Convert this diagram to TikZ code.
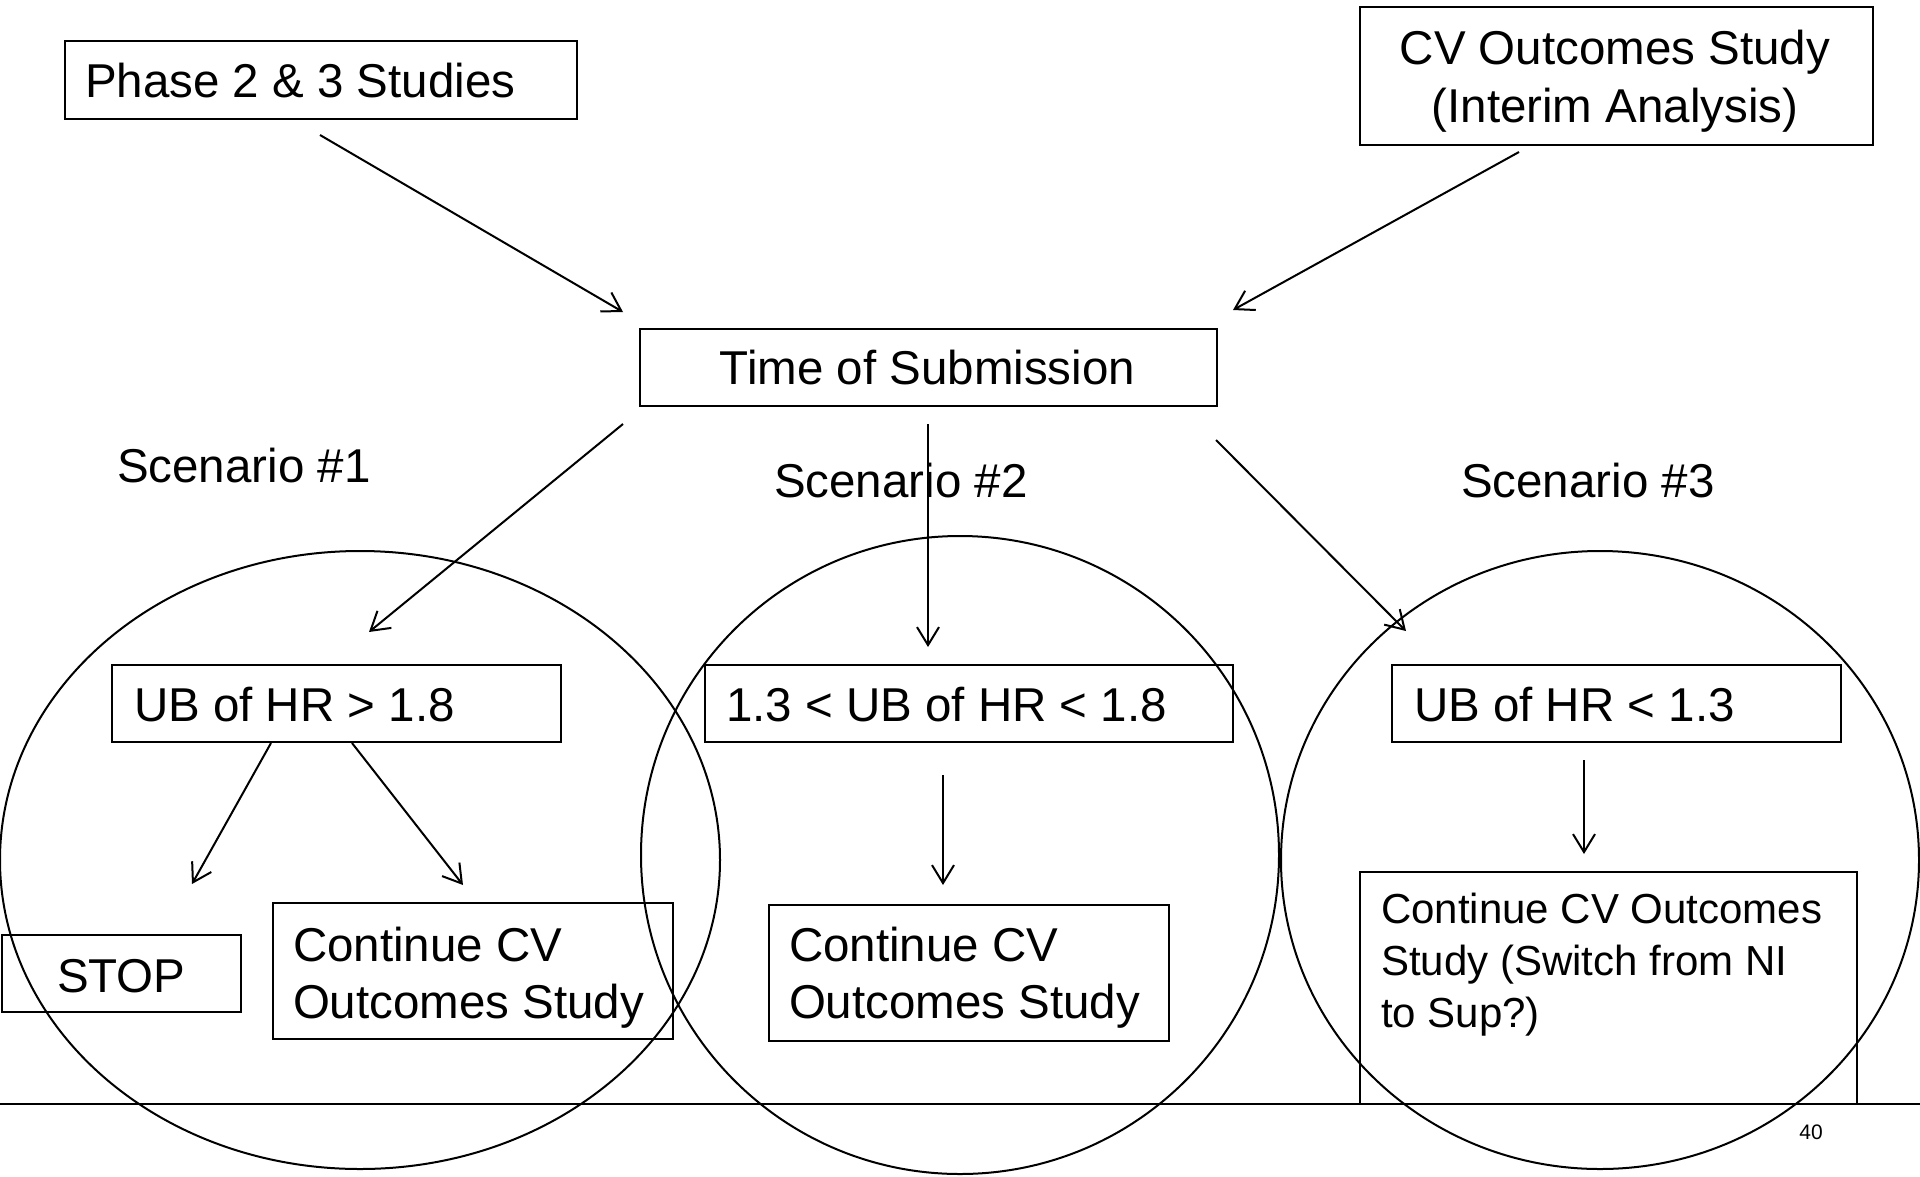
\documentclass[tikz,border=0pt]{standalone}
\usepackage{fontspec}
\setmainfont{Liberation Sans}
\usetikzlibrary{arrows.meta}
\begin{document}
\begin{tikzpicture}[x=1pt,y=-1pt,line width=2pt,
  boxed/.style={draw,line width=2pt,inner sep=0pt,anchor=north west},
  big/.style={font=\fontsize{47.5}{57}\selectfont,inner sep=0pt},
  mid/.style={font=\fontsize{42}{51}\selectfont,inner sep=0pt},
  tiny/.style={font=\fontsize{21}{25}\selectfont,inner sep=0pt},
  arr/.style={-{Straight Barb[length=18pt,width=22pt]},line width=2pt},
  ring/.style={draw,line width=2pt}]
\useasboundingbox (0,0) rectangle (1920,1176);
\fill[white] (0,0) rectangle (1920,1176);

% circles
\draw[ring] (360,860) ellipse [x radius=360, y radius=309];
\draw[ring] (960,855) ellipse [x radius=319, y radius=319];
\draw[ring] (1600,860) ellipse [x radius=319, y radius=309];

% boxes
\node[boxed,minimum width=512pt,minimum height=78pt] (phase) at (64,40) {};
\node[big,anchor=base west] (phaset) at (84,97) {Phase 2 \& 3 Studies};

\node[boxed,minimum width=513pt,minimum height=138pt] (cv) at (1359,6) {};
\node[big,anchor=base] (cvt1) at (1615,64) {CV Outcomes Study};
\node[big,anchor=base] (cvt2) at (1615,122) {(Interim Analysis)};

\node[boxed,minimum width=577pt,minimum height=77pt] (time) at (639,328) {};
\node[big,anchor=base] (timet) at (927.5,384) {Time of Submission};

\node[big,anchor=base west] (sc1) at (116,482) {Scenario \#1};
\node[big,anchor=base west] (sc2) at (773,497) {Scenario \#2};
\node[big,anchor=base west] (sc3) at (1460,497) {Scenario \#3};

\node[boxed,minimum width=449pt,minimum height=77pt] (ub1) at (111,664) {};
\node[big,anchor=base west] (ub1t) at (133,721) {UB of HR > 1.8};
\node[boxed,minimum width=528pt,minimum height=77pt] (ub2) at (704,664) {};
\node[big,anchor=base west] (ub2t) at (725,721) {1.3 < UB of HR < 1.8};
\node[boxed,minimum width=449pt,minimum height=77pt] (ub3) at (1391,664) {};
\node[big,anchor=base west] (ub3t) at (1413,721) {UB of HR < 1.3};

\node[boxed,minimum width=239pt,minimum height=77pt] (stop) at (1,934) {};
\node[big,anchor=base west] (stopt) at (56,992) {STOP};

\node[boxed,minimum width=400pt,minimum height=136pt] (c1) at (272,902) {};
\node[big,anchor=base west] (c1a) at (292,961) {Continue CV};
\node[big,anchor=base west] (c1b) at (292,1018) {Outcomes Study};

\node[boxed,minimum width=400pt,minimum height=136pt] (c2) at (768,904) {};
\node[big,anchor=base west] (c2a) at (788,961) {Continue CV};
\node[big,anchor=base west] (c2b) at (788,1018) {Outcomes Study};

\node[boxed,minimum width=497pt,minimum height=232pt] (c3) at (1359,871) {};
\node[mid,anchor=base west] (c3a) at (1380,923) {Continue CV Outcomes};
\node[mid,anchor=base west] (c3b) at (1380,975) {Study (Switch from NI};
\node[mid,anchor=base west] (c3c) at (1380,1027) {to Sup?)};

% arrow end points
\coordinate (p1s) at (320,135);  \coordinate (p1e) at (623,312);
\coordinate (p2s) at (1519,152); \coordinate (p2e) at (1233,310);
\coordinate (p3s) at (623,424);  \coordinate (p3e) at (369,632);
\coordinate (p4s) at (928,424);  \coordinate (p4e) at (928,647);
\coordinate (p5s) at (1216,440); \coordinate (p5e) at (1406,631);
\coordinate (p6s) at (271,743);  \coordinate (p6e) at (192,884);
\coordinate (p7s) at (352,743);  \coordinate (p7e) at (463,885);
\coordinate (p8s) at (943,775);  \coordinate (p8e) at (943,885);
\coordinate (p9s) at (1584,760); \coordinate (p9e) at (1584,854);

\draw[arr] (p1s) -- (p1e);
\draw[arr] (p2s) -- (p2e);
\draw[arr] (p3s) -- (p3e);
\draw[arr] (p4s) -- (p4e);
\draw[arr] (p5s) -- (p5e);
\draw[arr] (p6s) -- (p6e);
\draw[arr] (p7s) -- (p7e);
\draw[arr] (p8s) -- (p8e);
\draw[arr] (p9s) -- (p9e);

% footer rule and page number
\coordinate (rl) at (0,1104); \coordinate (rr) at (1920,1104);
\draw[line width=2.5pt] (rl) -- (rr);
\node[tiny,anchor=base] (pg) at (1811,1139) {40};
\end{tikzpicture}
\end{document}
